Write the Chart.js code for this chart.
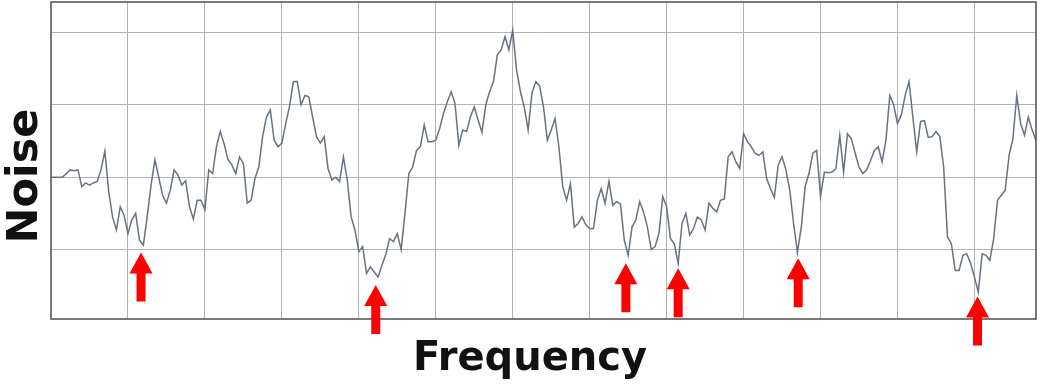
<!DOCTYPE html>
<html>
<head>
<meta charset="utf-8">
<script src="https://cdn.jsdelivr.net/npm/chart.js@4/dist/chart.umd.min.js"></script>
<style>
  html, body { margin: 0; padding: 0; background: #fff; }
  #wrap { width: 1040px; height: 384px; }
</style>
</head>
<body>
<div id="wrap"><canvas id="noiseChart"></canvas></div>
<script>
// noise reading every 5 Hz, 0..1280 Hz
const noise = [
  0, 0, 0, 0, 0.05, 0.10, 0.09, 0.10, -0.13, -0.08,
  -0.11, -0.08, -0.06, 0.10, 0.36, -0.20, -0.55, -0.73, -0.41, -0.53,
  -0.78, -0.59, -0.50, -0.87, -0.94, -0.55, -0.11, 0.24, 0.00, -0.25,
  -0.36, -0.18, 0.10, 0.03, -0.11, -0.05, -0.41, -0.58, -0.32, -0.32,
  -0.45, 0.10, 0.05, 0.42, 0.63, 0.46, 0.24, 0.17, 0.05, 0.28,
  0.19, -0.36, -0.32, -0.02, 0.14, 0.56, 0.83, 0.93, 0.51, 0.42,
  0.47, 0.74, 0.98, 1.32, 1.32, 1.00, 1.13, 1.11, 0.83, 0.56,
  0.47, 0.56, 0.12, -0.04, 0.00, -0.06, 0.28, -0.04, -0.55, -0.73,
  -1.03, -0.96, -1.33, -1.24, -1.31, -1.38, -1.22, -1.07, -0.85, -0.89,
  -0.78, -1.00, -0.50, 0.05, 0.14, 0.37, 0.42, 0.72, 0.49, 0.49,
  0.51, 0.67, 0.88, 1.04, 1.18, 1.02, 0.44, 0.65, 0.63, 0.83,
  0.97, 0.79, 0.62, 1.00, 1.18, 1.32, 1.69, 1.76, 1.94, 1.76,
  2.03, 1.48, 1.18, 0.97, 0.65, 1.16, 1.32, 1.26, 0.97, 0.51,
  0.65, 0.81, 0.42, -0.13, -0.32, -0.09, -0.69, -0.64, -0.55, -0.66,
  -0.71, -0.71, -0.32, -0.16, -0.36, -0.06, -0.39, -0.34, -0.37, -0.87,
  -1.08, -0.69, -0.59, -0.34, -0.48, -0.69, -1.00, -0.96, -0.78, -0.27,
  -0.41, -0.85, -0.92, -1.19, -0.64, -0.50, -0.80, -0.71, -0.55, -0.59,
  -0.73, -0.36, -0.43, -0.48, -0.32, -0.30, 0.28, 0.35, 0.21, 0.12,
  0.60, 0.49, 0.42, 0.33, 0.30, 0.35, -0.02, -0.16, -0.28, 0.17,
  0.28, 0.10, -0.18, -0.64, -1.04, -0.69, -0.13, 0.05, 0.33, 0.37,
  -0.27, 0.07, 0.06, 0.07, 0.12, 0.58, 0.07, 0.60, 0.53, 0.33,
  0.14, 0.05, 0.10, 0.23, 0.37, 0.42, 0.21, 0.51, 1.13, 1.00,
  0.74, 0.86, 1.13, 1.32, 0.83, 0.35, 0.77, 0.78, 0.55, 0.56,
  0.63, 0.56, 0.14, -0.83, -0.92, -1.29, -1.29, -1.08, -1.06, -1.19,
  -1.38, -1.59, -1.06, -1.08, -1.15, -0.85, -0.32, -0.25, -0.18, 0.30,
  0.53, 1.13, 0.74, 0.58, 0.83, 0.65, 0.51
];
const freqs = noise.map((_, i) => i * 5);

const gridFreqs = [100, 200, 300, 400, 500, 600, 700, 800, 900, 1000, 1100, 1200];
const gridNoise = [-1, 0, 1, 2];

// red arrows under the dips: frequency and where the tip sits
const arrowFreqs = [117, 422, 747, 815, 971, 1204];
const arrowTips = [-1.04, -1.49, -1.19, -1.26, -1.12, -1.65];

const frame = {
  id: "frame",
  afterDatasetsDraw(chart) {
    const { ctx, chartArea: a } = chart;
    ctx.save();
    ctx.strokeStyle = "#4d4d4d";
    ctx.lineWidth = 1.5;
    ctx.strokeRect(a.left, a.top, a.right - a.left, a.bottom - a.top);
    ctx.restore();
  }
};

const arrows = {
  id: "arrows",
  afterDraw(chart) {
    const { ctx, scales } = chart;
    ctx.save();
    ctx.fillStyle = "#ff0000";
    arrowFreqs.forEach((f, i) => {
      const x = scales.x.getPixelForValue(f);
      const y = scales.y.getPixelForValue(arrowTips[i]);
      ctx.beginPath();
      ctx.moveTo(x, y);
      ctx.lineTo(x + 11.5, y + 21);
      ctx.lineTo(x + 4.5, y + 21);
      ctx.lineTo(x + 4.5, y + 49);
      ctx.lineTo(x - 4.5, y + 49);
      ctx.lineTo(x - 4.5, y + 21);
      ctx.lineTo(x - 11.5, y + 21);
      ctx.closePath();
      ctx.fill();
    });
    ctx.restore();
  }
};

const titles = {
  id: "titles",
  afterDraw(chart) {
    const { ctx } = chart;
    ctx.save();
    ctx.fillStyle = "#111";
    ctx.textAlign = "center";
    ctx.textBaseline = "alphabetic";
    ctx.font = "bold 40px 'DejaVu Sans'";
    ctx.fillText("Frequency", 530, 370);
    ctx.translate(37, 176);
    ctx.rotate(-Math.PI / 2);
    ctx.font = "bold 43px 'DejaVu Sans'";
    ctx.fillText("Noise", 0, 0);
    ctx.restore();
  }
};

new Chart(document.getElementById("noiseChart"), {
  type: "line",
  data: {
    labels: freqs,
    datasets: [{
      data: noise,
      borderColor: "#68737e",
      borderWidth: 1.5,
      pointRadius: 0,
      tension: 0,
      fill: false
    }]
  },
  options: {
    responsive: true,
    maintainAspectRatio: false,
    animation: false,
    layout: { padding: { left: 51, top: 2, right: 4, bottom: 65 } },
    plugins: { legend: { display: false }, tooltip: { enabled: false } },
    scales: {
      x: {
        type: "linear",
        min: 0,
        max: 1280,
        afterBuildTicks: s => { s.ticks = gridFreqs.map(v => ({ value: v })); },
        ticks: { display: false },
        grid: { color: "#b3b3b3", drawTicks: false },
        border: { display: false }
      },
      y: {
        min: -1.96,
        max: 2.42,
        afterBuildTicks: s => { s.ticks = gridNoise.map(v => ({ value: v })); },
        ticks: { display: false },
        grid: { color: "#b3b3b3", drawTicks: false },
        border: { display: false }
      }
    }
  },
  plugins: [frame, arrows, titles]
});
</script>
</body>
</html>
